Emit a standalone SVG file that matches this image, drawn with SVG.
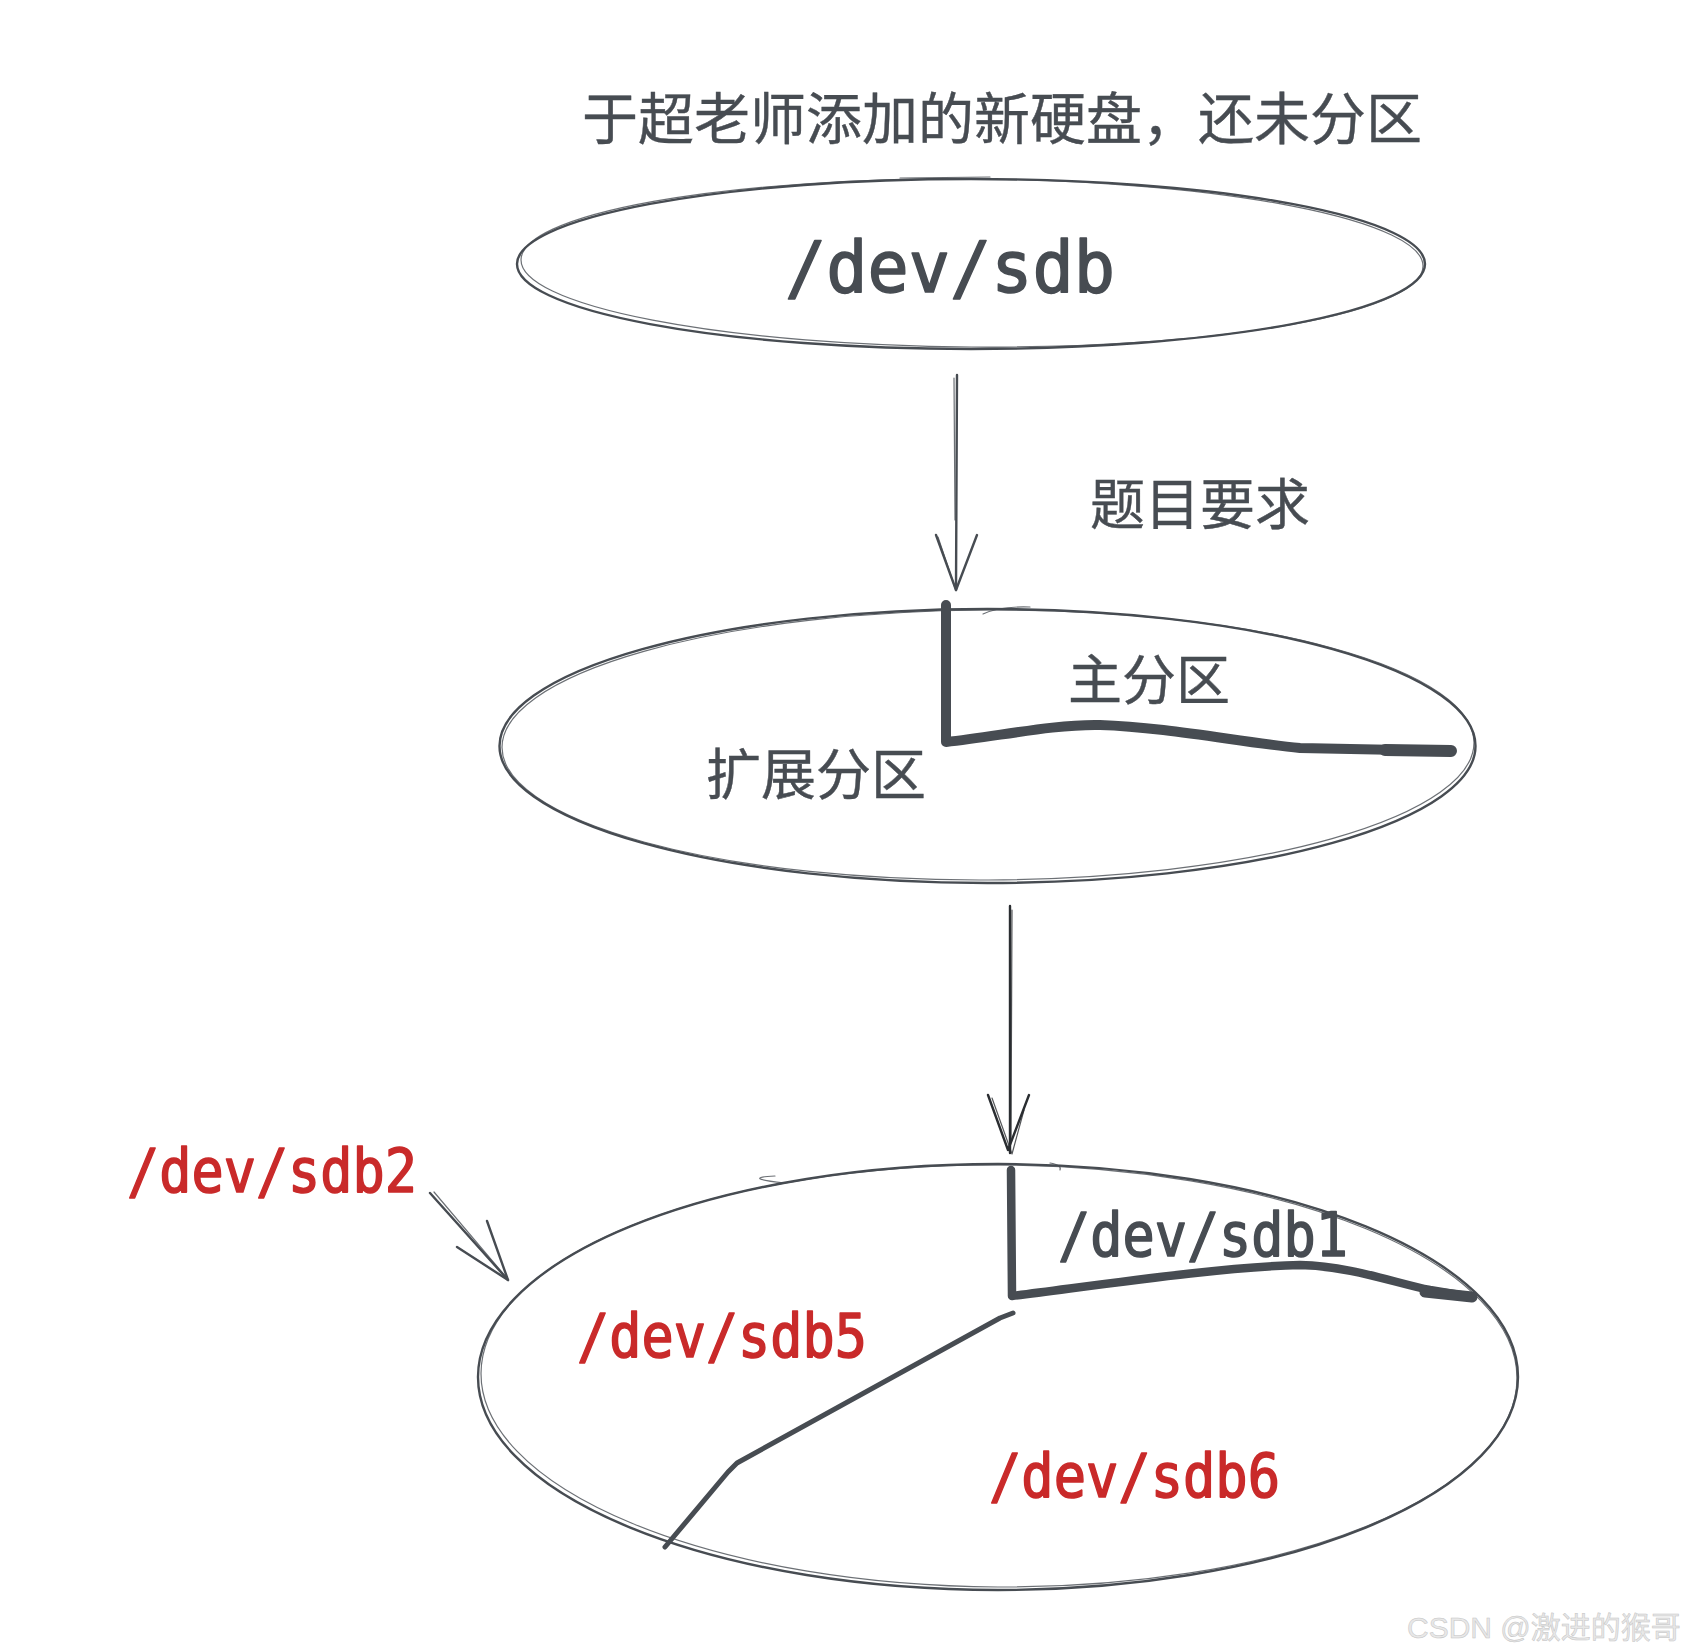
<svg xmlns="http://www.w3.org/2000/svg" width="1692" height="1652" viewBox="0 0 1692 1652">
<style>
.sk{fill:none;stroke:#474c52;stroke-linecap:round;stroke-linejoin:round}
.s1{stroke-width:2.4}
.s2{stroke-width:1.2;opacity:.8}
.thick{fill:none;stroke:#474c52;stroke-linecap:round;stroke-linejoin:round}
.cjk{font-family:"Noto Sans CJK SC","Noto Sans",sans-serif;fill:#474c52;stroke:#474c52;stroke-width:0.4}
.mono{font-family:"DejaVu Sans Mono","Liberation Mono",monospace;stroke-width:1.6;stroke-linejoin:round}
.dark{fill:#474c52;stroke:#474c52}
.red{fill:#c92a2a;stroke:#c92a2a}
.wm{font-family:"Liberation Sans","Noto Sans CJK SC",sans-serif;font-size:30px;fill:#e8e8e8;stroke:#c4c4c4;stroke-width:0.5}
</style>
<rect width="1692" height="1652" fill="#ffffff"/>

<g id="title">
<text class="cjk" x="582" y="114" font-size="56" dominant-baseline="central">于超老师添加的新硬盘，还未分区</text>
</g>

<g id="node-sdb">
<ellipse class="sk s1" cx="971" cy="264" rx="454" ry="85"/>
<ellipse class="sk s2" cx="972" cy="263" rx="451" ry="84" transform="rotate(0.4 971 264)"/>
<path class="sk s2" d="M900,178 L990,177"/>
<text class="mono dark" x="785" y="292" font-size="72" textLength="330" lengthAdjust="spacingAndGlyphs">/dev/sdb</text>
</g>

<g id="label-req">
<text class="cjk" x="1090" y="500" font-size="55" dominant-baseline="central">题目要求</text>
</g>

<g id="node-partition">
<ellipse class="sk s1" cx="987.5" cy="746" rx="488" ry="137"/>
<ellipse class="sk s2" cx="988" cy="745" rx="486" ry="135" transform="rotate(-0.3 987 746)"/>
<path class="sk s2" d="M983,614 Q1000,606 1030,607"/>
<path class="thick" stroke-width="10" d="M946,605 L946,742 C1000,736 1055,724 1100,725 C1165,727 1240,742 1300,748 L1451,751"/>
<path class="thick" stroke-width="12" d="M1385,750 L1451,751"/>
<text class="cjk" x="1068" y="676" font-size="54" dominant-baseline="central">主分区</text>
<text class="cjk" x="706" y="770" font-size="55" dominant-baseline="central">扩展分区</text>
</g>

<g id="node-result">
<ellipse class="sk s1" cx="998" cy="1377" rx="520" ry="213"/>
<ellipse class="sk s2" cx="999" cy="1376" rx="518" ry="211" transform="rotate(0.3 998 1377)"/>
<path class="sk s2" d="M775,1176 Q740,1178 785,1183"/>
<path class="sk s2" d="M1050,1163 Q1062,1165 1060,1170"/>
<path class="thick" stroke-width="8.5" d="M1011,1170 L1012,1296 C1100,1285 1220,1267 1300,1265 C1350,1266 1395,1283 1430,1290 L1472,1297"/>
<path class="thick" stroke-width="11" d="M1425,1292 L1472,1297"/>
<path class="thick" stroke-width="5" d="M1013,1313 L1000,1318 L737,1463 L728,1472 L665,1547"/>
<text class="mono dark" x="1058" y="1256" font-size="60" textLength="290" lengthAdjust="spacingAndGlyphs">/dev/sdb1</text>
<text class="mono red" x="577" y="1357" font-size="60" textLength="290" lengthAdjust="spacingAndGlyphs">/dev/sdb5</text>
<text class="mono red" x="989" y="1497" font-size="60" textLength="291" lengthAdjust="spacingAndGlyphs">/dev/sdb6</text>
</g>

<g id="label-sdb2">
<text class="mono red" x="127" y="1192" font-size="60" textLength="290" lengthAdjust="spacingAndGlyphs">/dev/sdb2</text>
</g>

<g id="connectors">
<g id="arrow-1">
<path class="sk s1" d="M957,375 L956,590"/>
<path class="sk s2" d="M954,378 L955,520"/>
<path class="sk s1" d="M936,535 L956,590 L977,535"/>
<path class="sk s2" d="M938,537 L955,588"/>
</g>
<g id="arrow-2">
<path class="sk s1" style="stroke:#2a2d31" d="M1010,906 L1010,1153"/>
<path class="sk s2" style="stroke:#2a2d31" d="M1012,910 L1011,1140"/>
<path class="sk s1" style="stroke:#2a2d31" d="M988,1095 L1008,1150 L1029,1095"/>
<path class="sk s2" style="stroke:#2a2d31" d="M992,1098 L1012,1154 L1024,1110"/>
</g>
<g id="arrow-3">
<path class="sk s1" d="M430,1193 L508,1280"/>
<path class="sk s2" d="M434,1192 L506,1277"/>
<path class="sk s1" d="M457,1247 L508,1280 L487,1221"/>
</g>
</g>

<g id="watermark">
<text class="wm" x="1407" y="1638">CSDN @激进的猴哥</text>
</g>
</svg>
